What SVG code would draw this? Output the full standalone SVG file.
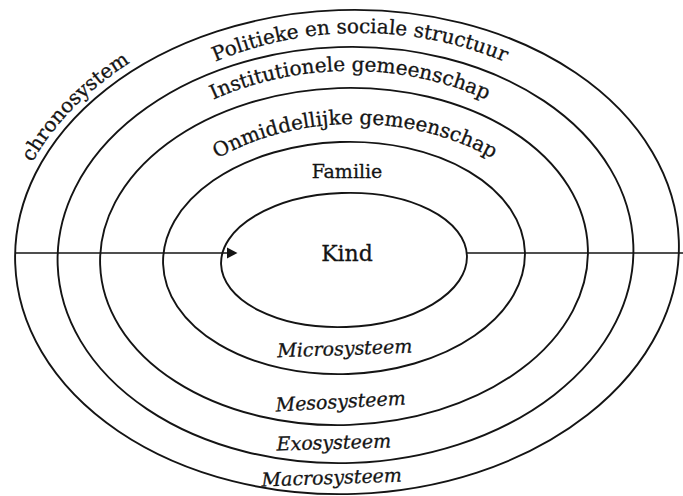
<svg xmlns="http://www.w3.org/2000/svg" xmlns:xlink="http://www.w3.org/1999/xlink" width="683" height="496" viewBox="0 0 683 496">
<style>
.ring{fill:none;stroke:#141414;stroke-width:1.9}
.axis{fill:none;stroke:#141414;stroke-width:1.6}
.lbl{font-family:"DejaVu Serif","Liberation Serif",serif;fill:#141414;stroke:#141414;stroke-width:0.3}
.arc{font-size:20px}
.it{font-style:italic;font-size:19px}
</style>
<defs>
<marker id="arrow" markerUnits="userSpaceOnUse" markerWidth="12" markerHeight="12" refX="1" refY="6" orient="auto">
<path d="M0,0.5 L10.5,6 L0,11.5 Z" fill="#141414"/>
</marker>
<path id="pChrono" d="M 12.2,208.6 A 340 250 0 0 1 288,5.8" transform="rotate(-2 347 252)"/>
<path id="pPol" d="M 60,266 A 300 233 0 0 1 660,266"/>
<path id="pInst" d="M 80,280 A 270 209 0 0 1 620,280"/>
<path id="pOnm" d="M 125,297 A 230 173 0 0 1 585,297"/>
</defs>
<rect width="683" height="496" fill="#ffffff"/>

<g id="macrosysteem">
<ellipse class="ring" cx="347" cy="252" rx="332" ry="242" transform="rotate(-2 347 252)"/>
<text class="lbl arc"><textPath xlink:href="#pChrono" href="#pChrono" startOffset="62">chronosystem</textPath></text>
<text class="lbl arc"><textPath xlink:href="#pPol" href="#pPol" startOffset="50%" text-anchor="middle">Politieke en sociale structuur</textPath></text>
<text class="lbl it" x="332" y="484" text-anchor="middle" transform="rotate(-2 332 484)">Macrosysteem</text>
</g>

<g id="exosysteem">
<ellipse class="ring" cx="345.5" cy="255" rx="288" ry="208" transform="rotate(-2 345.5 255)"/>
<text class="lbl arc"><textPath xlink:href="#pInst" href="#pInst" startOffset="50%" text-anchor="middle">Institutionele gemeenschap</textPath></text>
<text class="lbl it" x="334" y="449" text-anchor="middle" transform="rotate(-1.5 334 449)">Exosysteem</text>
</g>

<g id="mesosysteem">
<ellipse class="ring" cx="344" cy="256.5" rx="244" ry="168.5" transform="rotate(-2 344 256.5)"/>
<text class="lbl arc"><textPath xlink:href="#pOnm" href="#pOnm" startOffset="50%" text-anchor="middle">Onmiddellijke gemeenschap</textPath></text>
<text class="lbl it" x="341" y="408" text-anchor="middle" transform="rotate(-3 341 408)">Mesosysteem</text>
</g>

<g id="microsysteem">
<ellipse class="ring" cx="344" cy="258" rx="181" ry="116" transform="rotate(-2 344 258)"/>
<text class="lbl" x="347" y="178" text-anchor="middle" font-size="19">Familie</text>
<text class="lbl it" x="345" y="355" text-anchor="middle" transform="rotate(-2 345 355)">Microsysteem</text>
</g>

<g id="kind">
<ellipse class="ring" cx="344" cy="260" rx="123" ry="67" transform="rotate(-2 344 260)"/>
<text class="lbl" x="347" y="261" text-anchor="middle" font-size="22">Kind</text>
</g>

<g id="connectors">
<line class="axis" x1="15" y1="253" x2="228" y2="253" marker-end="url(#arrow)"/>
<line class="axis" x1="467" y1="253" x2="683" y2="253"/>
</g>
</svg>
